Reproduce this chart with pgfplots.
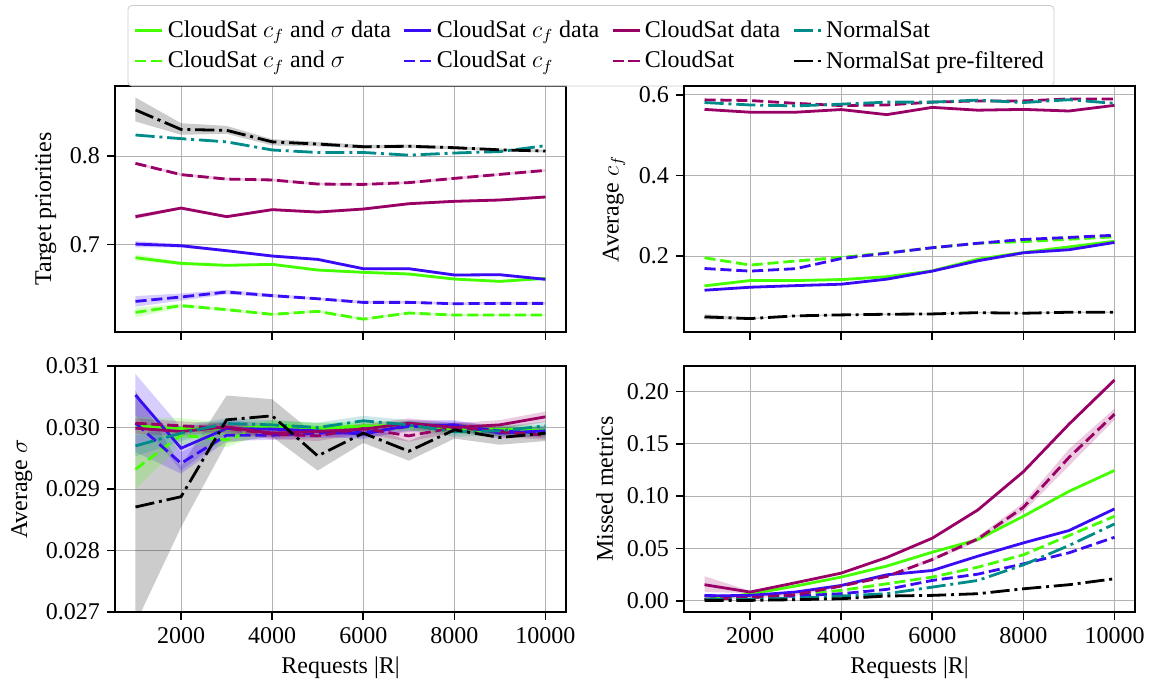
\documentclass[border=0pt]{standalone}
\usepackage{fontspec}
\setmainfont{Liberation Serif}
\usepackage{pgfplots}
\pgfplotsset{compat=1.18}
\usepackage{pgfplotstable}

\definecolor{cgreen}{HTML}{44FF00}
\definecolor{cblue}{HTML}{3A0CF5}
\definecolor{cpurple}{HTML}{990066}
\definecolor{cteal}{HTML}{008B8B}

% mean values, columns: gd = CloudSat cf and sigma data, g = CloudSat cf and sigma,
% bd = CloudSat cf data, b = CloudSat cf, pd = CloudSat data, p = CloudSat,
% n = NormalSat, np = NormalSat pre-filtered
\pgfplotstableread{
x     gd     g      bd     b      pd     p      n      np
1000  0.6853 0.6236 0.7007 0.6360 0.7316 0.7917 0.8237 0.8520
2000  0.6789 0.6312 0.6988 0.6410 0.7413 0.7790 0.8196 0.8300
3000  0.6767 0.6267 0.6932 0.6466 0.7316 0.7740 0.8160 0.8290
4000  0.6778 0.6214 0.6872 0.6425 0.7395 0.7730 0.8068 0.8160
5000  0.6714 0.6248 0.6834 0.6390 0.7368 0.7684 0.8040 0.8135
6000  0.6688 0.6160 0.6729 0.6349 0.7402 0.7680 0.8040 0.8105
7000  0.6669 0.6229 0.6729 0.6349 0.7462 0.7700 0.8010 0.8110
8000  0.6612 0.6206 0.6658 0.6334 0.7489 0.7748 0.8034 0.8094
9000  0.6586 0.6206 0.6661 0.6338 0.7504 0.7793 0.8050 0.8070
10000 0.6620 0.6206 0.6609 0.6338 0.7538 0.7838 0.8117 0.8056
}\prio

\pgfplotstableread{
x     gd     g      bd     b      pd     p      n      np
1000  0.1264 0.196  0.1156 0.1694 0.564  0.5876 0.581  0.0494
2000  0.1396 0.178  0.123  0.163  0.557  0.586  0.575  0.0453
3000  0.1396 0.188  0.127  0.169  0.557  0.579  0.5727 0.052
4000  0.142  0.197  0.1305 0.194  0.5636 0.5735 0.577  0.0544
5000  0.149  0.208  0.143  0.2075 0.551  0.575  0.582  0.056
6000  0.1636 0.221  0.163  0.221  0.569  0.582  0.582  0.0568
7000  0.1926 0.232  0.1885 0.232  0.562  0.585  0.587  0.060
8000  0.209  0.236  0.2084 0.2415 0.564  0.585  0.581  0.0585
9000  0.223  0.242  0.216  0.2465 0.560  0.590  0.588  0.061
10000 0.237  0.248  0.234  0.252  0.574  0.590  0.579  0.061
}\cf

\pgfplotstableread{
x     gd       g        bd       b        pd       p        n        np
1000  0.030027 0.029321 0.030527 0.030071 0.029989 0.030070 0.029701 0.028707
2000  0.029984 0.029875 0.029663 0.029418 0.029935 0.030027 0.029908 0.028875
3000  0.029973 0.029799 0.029984 0.029875 0.030010 0.029989 0.030065 0.030125
4000  0.030027 0.030043 0.029973 0.029875 0.029908 0.029891 0.030043 0.030190
5000  0.029984 0.029989 0.029946 0.029908 0.029935 0.029864 0.030000 0.029538
6000  0.030016 0.030027 0.029891 0.029918 0.029973 0.029984 0.030109 0.029908
7000  0.030027 0.030027 0.030038 0.030016 0.030070 0.029864 0.030043 0.029614
8000  0.029973 0.029984 0.030043 0.030027 0.030000 0.030000 0.029929 0.029962
9000  0.029973 0.029929 0.029908 0.029946 0.030043 0.029929 0.029946 0.029837
10000 0.029946 0.029918 0.029946 0.029908 0.030174 0.029875 0.030027 0.029908
}\sig

\pgfplotstableread{
x     gd     g      bd     b      pd     p      n      np
1000  0.0013 0.0013 0.0045 0.0051 0.0153 0.0013 0.0010 0.0003
2000  0.0064 0.0029 0.0051 0.0035 0.0083 0.0029 0.0013 0.0003
3000  0.0140 0.0057 0.0083 0.0045 0.0172 0.0057 0.0025 0.0010
4000  0.0226 0.0099 0.0146 0.0067 0.0264 0.0140 0.0045 0.0019
5000  0.0331 0.0162 0.0248 0.0108 0.0413 0.0232 0.0067 0.0045
6000  0.0464 0.0226 0.0289 0.0194 0.0598 0.0394 0.0130 0.0051
7000  0.0585 0.0321 0.0426 0.0254 0.0868 0.0591 0.0194 0.0067
8000  0.0808 0.0439 0.0553 0.0353 0.1234 0.0893 0.0343 0.0114
9000  0.1046 0.0623 0.0671 0.0458 0.1688 0.1370 0.0528 0.0153
10000 0.1246 0.0808 0.0878 0.0607 0.2111 0.1784 0.0734 0.0210
}\miss

\pgfplotsset{
  lsolid/.style={line width=1.4pt, solid},
  ldash/.style={line width=1.4pt, dash pattern=on 5.55pt off 2.4pt},
  ldashdot/.style={line width=1.4pt, dash pattern=on 9.6pt off 2.4pt on 1.5pt off 2.4pt},
  band/.style={fill=#1, fill opacity=0.2, draw=none, forget plot},
  panel/.style={
    scale only axis, width=225.5pt, height=123pt,
    xmin=550, xmax=10450,
    xtick={2000,4000,6000,8000,10000},
    grid=major, major grid style={line width=0.5pt, black!30},
    axis line style={line width=1pt},
    tick align=outside, tick pos=left,
    major tick length=4pt, tick style={line width=0.8pt, black},
    /pgf/number format/assume math mode=true,
    /pgf/number format/set thousands separator={},
    scaled ticks=false,
  },
}

\newcommand{\drawlines}[1]{%
  \addplot[cgreen, lsolid, forget plot] table[x=x, y=gd] {#1};
  \addplot[cgreen, ldash, forget plot] table[x=x, y=g] {#1};
  \addplot[cblue, lsolid, forget plot] table[x=x, y=bd] {#1};
  \addplot[cblue, ldash, forget plot] table[x=x, y=b] {#1};
  \addplot[cpurple, lsolid, forget plot] table[x=x, y=pd] {#1};
  \addplot[cpurple, ldash, forget plot] table[x=x, y=p] {#1};
  \addplot[cteal, ldashdot, forget plot] table[x=x, y=n] {#1};
  \addplot[black, ldashdot, forget plot] table[x=x, y=np] {#1};
}

\begin{document}
\begin{tikzpicture}[font=\fontsize{12}{14.4}\selectfont]
\useasboundingbox (0,0) rectangle (574.5pt,342.5pt);

% top left
\begin{axis}[panel, at={(57.5pt,176.5pt)},
  ymin=0.6015, ymax=0.879, ytick={0.7,0.8}, xticklabels={},
  yticklabel style={/pgf/number format/.cd, fixed, precision=1},
  ylabel={Target priorities},
  legend columns=4,
  legend cell align=left,
  legend image code/.code={\draw[#1] (0pt,0pt) -- (13.5pt,0pt);},
  legend style={at={(1.0554,1.329)}, anchor=north, draw=black!20, rounded corners=2pt,
    fill=white, fill opacity=0.8, text opacity=1, inner ysep=5.5pt, inner xsep=3pt, row sep=1.5pt,
    /tikz/every even column/.append style={column sep=4pt}},
]
\addlegendimage{cgreen, lsolid}
\addlegendimage{cblue, lsolid}
\addlegendimage{cpurple, lsolid}
\addlegendimage{cteal, ldashdot}
\addlegendimage{cgreen, ldash}
\addlegendimage{cblue, ldash}
\addlegendimage{cpurple, ldash}
\addlegendimage{black, ldashdot}
\legend{CloudSat $c_f$ and $\sigma$ data, CloudSat $c_f$ data, CloudSat data, NormalSat,
  CloudSat $c_f$ and $\sigma$, CloudSat $c_f$, CloudSat, NormalSat pre-filtered}
% spreads (upper edge forward, lower edge back)
\addplot[band=black] coordinates {(1000,0.866)(2000,0.837)(3000,0.834)(4000,0.819)(5000,0.816)(6000,0.8125)(7000,0.813)(8000,0.811)(9000,0.8085)(10000,0.807)
  (10000,0.804)(9000,0.8055)(8000,0.8075)(7000,0.809)(6000,0.8085)(5000,0.811)(4000,0.812)(3000,0.825)(2000,0.824)(1000,0.839)};
\addplot[band=cblue] coordinates {(1000,0.642)(2000,0.645)(3000,0.649)(4000,0.6445)(5000,0.6405)(6000,0.6365)(7000,0.6365)(8000,0.635)(9000,0.6352)(10000,0.6352)
  (10000,0.6325)(9000,0.6325)(8000,0.632)(7000,0.6335)(6000,0.6335)(5000,0.6375)(4000,0.6405)(3000,0.644)(2000,0.637)(1000,0.630)};
\addplot[band=cgreen] coordinates {(1000,0.629)(2000,0.6335)(3000,0.6285)(4000,0.623)(5000,0.6263)(6000,0.6175)(7000,0.6244)(8000,0.622)(9000,0.622)(10000,0.622)
  (10000,0.6192)(9000,0.6192)(8000,0.6192)(7000,0.6214)(6000,0.6145)(5000,0.6233)(4000,0.620)(3000,0.625)(2000,0.629)(1000,0.618)};
\addplot[band=cblue] coordinates {(1000,0.704)(2000,0.7008)(3000,0.6947)(4000,0.6887)(5000,0.6849)(6000,0.6744)(7000,0.6744)(8000,0.6673)(9000,0.6676)(10000,0.6624)
  (10000,0.6594)(9000,0.6646)(8000,0.6643)(7000,0.6714)(6000,0.6714)(5000,0.6819)(4000,0.6857)(3000,0.6917)(2000,0.6968)(1000,0.697)};
\addplot[band=cgreen] coordinates {(1000,0.689)(2000,0.6809)(3000,0.6782)(4000,0.6793)(5000,0.6729)(6000,0.6703)(7000,0.6684)(8000,0.6627)(9000,0.6601)(10000,0.6635)
  (10000,0.6605)(9000,0.6571)(8000,0.6597)(7000,0.6654)(6000,0.6673)(5000,0.6699)(4000,0.6763)(3000,0.6752)(2000,0.6769)(1000,0.682)};
\addplot[band=cpurple] coordinates {(1000,0.734)(2000,0.7428)(3000,0.7331)(4000,0.741)(5000,0.7383)(6000,0.7417)(7000,0.7477)(8000,0.7504)(9000,0.7519)(10000,0.7553)
  (10000,0.7523)(9000,0.7489)(8000,0.7474)(7000,0.7447)(6000,0.7387)(5000,0.7353)(4000,0.738)(3000,0.7301)(2000,0.7398)(1000,0.729)};
\addplot[band=cpurple] coordinates {(1000,0.7932)(2000,0.7805)(3000,0.7755)(4000,0.7745)(5000,0.7699)(6000,0.7695)(7000,0.7715)(8000,0.7763)(9000,0.7808)(10000,0.7853)
  (10000,0.7823)(9000,0.7778)(8000,0.7733)(7000,0.7685)(6000,0.7665)(5000,0.7669)(4000,0.7715)(3000,0.7725)(2000,0.7775)(1000,0.7902)};
\drawlines{\prio}
\end{axis}

% top right
\begin{axis}[panel, at={(342pt,176.5pt)},
  ymin=0.012, ymax=0.622, ytick={0.2,0.4,0.6}, xticklabels={},
  yticklabel style={/pgf/number format/.cd, fixed, precision=1},
  ylabel={Average $c_f$},
]
\addplot[band=black] coordinates {(1000,0.056)(2000,0.047)(3000,0.0535)(4000,0.056)(5000,0.0575)(6000,0.0583)(7000,0.0615)(8000,0.060)(9000,0.0625)(10000,0.0625)
  (10000,0.0595)(9000,0.0595)(8000,0.057)(7000,0.0585)(6000,0.0553)(5000,0.0545)(4000,0.053)(3000,0.0505)(2000,0.0435)(1000,0.043)};
\drawlines{\cf}
\end{axis}

% bottom left
\begin{axis}[panel, at={(57.5pt,36.5pt)},
  ymin=0.027, ymax=0.031, ytick={0.027,0.028,0.029,0.030,0.031},
  yticklabel style={/pgf/number format/.cd, fixed, fixed zerofill, precision=3},
  ylabel={Average $\sigma$}, xlabel={Requests |R|},
]
\addplot[band=black] coordinates {(1000,0.03060)(2000,0.02937)(3000,0.03052)(4000,0.03046)(5000,0.02985)(6000,0.03005)(7000,0.02978)(8000,0.03008)(9000,0.02996)(10000,0.03002)
  (10000,0.02978)(9000,0.02972)(8000,0.02982)(7000,0.02946)(6000,0.02975)(5000,0.02930)(4000,0.02985)(3000,0.02975)(2000,0.02838)(1000,0.02681)};
\addplot[band=cblue] coordinates {(1000,0.03087)(2000,0.03000)(3000,0.03012)(4000,0.03006)(5000,0.03003)(6000,0.02997)(7000,0.03012)(8000,0.03012)(9000,0.02999)(10000,0.03003)
  (10000,0.02986)(9000,0.02982)(8000,0.02996)(7000,0.02995)(6000,0.02981)(5000,0.02986)(4000,0.02988)(3000,0.02985)(2000,0.02930)(1000,0.03020)};
\addplot[band=cblue] coordinates {(1000,0.03050)(2000,0.02960)(3000,0.02997)(4000,0.02995)(5000,0.02999)(6000,0.03000)(7000,0.03010)(8000,0.03010)(9000,0.03003)(10000,0.02999)
  (10000,0.02983)(9000,0.02987)(8000,0.02995)(7000,0.02993)(6000,0.02984)(5000,0.02983)(4000,0.02980)(3000,0.02978)(2000,0.02925)(1000,0.02960)};
\addplot[band=cgreen] coordinates {(1000,0.02965)(2000,0.03003)(3000,0.02992)(4000,0.03012)(5000,0.03007)(6000,0.03010)(7000,0.03010)(8000,0.03006)(9000,0.03001)(10000,0.03000)
  (10000,0.02984)(9000,0.02985)(8000,0.02991)(7000,0.02995)(6000,0.02995)(5000,0.02991)(4000,0.02996)(3000,0.02968)(2000,0.02972)(1000,0.02900)};
\addplot[band=cgreen] coordinates {(1000,0.03017)(2000,0.03015)(3000,0.03007)(4000,0.03011)(5000,0.03007)(6000,0.03009)(7000,0.03010)(8000,0.03005)(9000,0.03005)(10000,0.03003)
  (10000,0.02987)(9000,0.02990)(8000,0.02990)(7000,0.02995)(6000,0.02994)(5000,0.02990)(4000,0.02994)(3000,0.02988)(2000,0.02982)(1000,0.02988)};
\addplot[band=cteal] coordinates {(1000,0.02987)(2000,0.03003)(3000,0.03015)(4000,0.03012)(5000,0.03008)(6000,0.03019)(7000,0.03012)(8000,0.03001)(9000,0.03002)(10000,0.03010)
  (10000,0.02995)(9000,0.02987)(8000,0.02985)(7000,0.02996)(6000,0.03002)(5000,0.02992)(4000,0.02996)(3000,0.02998)(2000,0.02978)(1000,0.02953)};
\addplot[band=cpurple] coordinates {(1000,0.03008)(2000,0.03001)(3000,0.03008)(4000,0.02999)(5000,0.03001)(6000,0.03005)(7000,0.03015)(8000,0.03007)(9000,0.03012)(10000,0.03026)
  (10000,0.03009)(9000,0.02997)(8000,0.02993)(7000,0.02999)(6000,0.02990)(5000,0.02986)(4000,0.02983)(3000,0.02994)(2000,0.02986)(1000,0.02990)};
\addplot[band=cpurple] coordinates {(1000,0.03015)(2000,0.03010)(3000,0.03007)(4000,0.02997)(5000,0.02995)(6000,0.03007)(7000,0.02996)(8000,0.03008)(9000,0.03001)(10000,0.02995)
  (10000,0.02980)(9000,0.02985)(8000,0.02992)(7000,0.02977)(6000,0.02990)(5000,0.02978)(4000,0.02981)(3000,0.02991)(2000,0.02995)(1000,0.02999)};
\drawlines{\sig}
\end{axis}

% bottom right
\begin{axis}[panel, at={(342pt,36.5pt)},
  ymin=-0.0108, ymax=0.2245, ytick={0,0.05,0.10,0.15,0.20},
  yticklabel style={/pgf/number format/.cd, fixed, fixed zerofill, precision=2},
  ylabel={Missed metrics}, xlabel={Requests |R|},
]
\addplot[band=cpurple] coordinates {(1000,0.0235)(2000,0.0093)(3000,0.0182)(4000,0.0274)(5000,0.0423)(6000,0.0608)(7000,0.0880)(8000,0.1248)(9000,0.1704)(10000,0.2129)
  (10000,0.2093)(9000,0.1672)(8000,0.1220)(7000,0.0856)(6000,0.0588)(5000,0.0403)(4000,0.0254)(3000,0.0162)(2000,0.0073)(1000,0.0083)};
\addplot[band=cpurple] coordinates {(1000,0.0021)(2000,0.0037)(3000,0.0065)(4000,0.0150)(5000,0.0244)(6000,0.0410)(7000,0.0614)(8000,0.0936)(9000,0.1450)(10000,0.1838)
  (10000,0.1730)(9000,0.1290)(8000,0.0850)(7000,0.0568)(6000,0.0378)(5000,0.0220)(4000,0.0130)(3000,0.0049)(2000,0.0021)(1000,0.0005)};
\drawlines{\miss}
\end{axis}
\end{tikzpicture}
\end{document}
